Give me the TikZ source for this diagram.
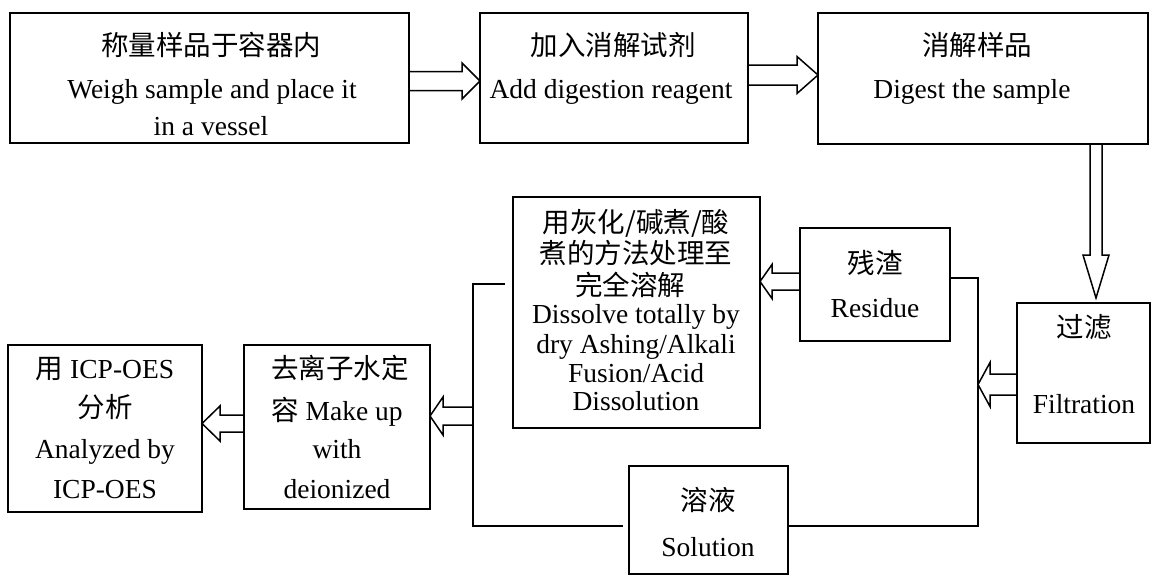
\documentclass[tikz,border=0pt]{standalone}
\usepackage{fontspec}
\setmainfont{Liberation Serif}
\newfontfamily\cjk{Noto Sans CJK SC}
\newcommand\tline[4]{\node[txt] (#1) at (#2,#3+10) {#4};}
\newcommand\boxn[5]{\node[box, minimum width=#4pt, minimum height=#5pt] (#1) at (#2,#3) {};}
\begin{document}
\begin{tikzpicture}[x=1pt,y=-1pt,
  box/.style={draw, line width=1.8pt, inner sep=0pt, outer sep=0pt},
  arr/.style={draw, line width=1.5pt, line join=miter},
  ln/.style={draw, line width=1.5pt},
  txt/.style={anchor=base, inner sep=0pt, font=\fontsize{27.5}{30}\selectfont}]
\useasboundingbox (0,0) rectangle (1159,576);
% boxes
\boxn{b1}{209.5}{78}{399}{130}
\boxn{b2}{614}{78}{268}{130}
\boxn{b3}{983}{78.5}{330}{131}
\boxn{fb}{1083.5}{373}{133}{140}
\boxn{rb}{875}{284.5}{150}{113}
\boxn{db}{636.5}{312.5}{247}{231}
\boxn{sb}{708.5}{520}{159}{108}
\boxn{ib}{337}{427}{186}{164}
\boxn{cb}{105}{428.5}{194}{167}
% texts
\tline{t1a}{211}{45}{{\cjk 称量样品于容器内}}
\tline{t1b}{212}{88}{Weigh sample and place it}
\tline{t1c}{211}{125}{in a vessel}
\tline{t2a}{613}{45}{{\cjk 加入消解试剂}}
\tline{t2b}{611}{88}{Add digestion reagent}
\tline{t3a}{977}{45}{{\cjk 消解样品}}
\tline{t3b}{972}{88}{Digest the sample}
\tline{tfa}{1084}{327}{{\cjk 过滤}}
\tline{tfb}{1084}{403}{Filtration}
\tline{tra}{875}{263}{{\cjk 残渣}}
\tline{trb}{875}{307}{Residue}
\tline{tda}{636}{222}{{\cjk 用灰化/碱煮/酸}}
\tline{tdb}{636}{253}{{\cjk 煮的方法处理至}}
\tline{tdc}{630}{285}{{\cjk 完全溶解}}
\tline{tdd}{636}{313}{Dissolve totally by}
\tline{tde}{636}{343}{dry Ashing/Alkali}
\tline{tdf}{636}{372}{Fusion/Acid}
\tline{tdg}{636}{400}{Dissolution}
\tline{tsa}{708}{500}{{\cjk 溶液}}
\tline{tsb}{708}{546}{Solution}
\tline{tia}{340}{368}{{\cjk 去离子水定}}
\tline{tib}{337}{410}{{\cjk 容} Make up}
\tline{tic}{337}{448}{with}
\tline{tid}{337}{488}{deionized}
\tline{tca}{105}{368}{{\cjk 用} ICP-OES}
\tline{tcb}{105}{407}{{\cjk 分析}}
\tline{tcc}{105}{448}{Analyzed by}
\tline{tcd}{105}{488}{ICP-OES}
% block arrows
\draw[arr] (b1.east |- 0,71.5) -- (462,71.5) -- (462,63) -- (b2.west |- 0,81) -- (462,99) -- (462,90.5) -- (b1.east |- 0,90.5);
\draw[arr] (b2.east |- 0,65) -- (797,65) -- (797,56.5) -- (b3.west |- 0,75) -- (797,93.5) -- (797,85) -- (b2.east |- 0,85);
\draw[arr] (b3.south -| 1090,0) -- (1090,255) -- (1083,255) -- (1096,298) -- (1109,255) -- (1102,255) -- (b3.south -| 1102,0);
\coordinate (vr) at (978,384.5);
\draw[arr] (fb.west |- 0,374) -- (990,374) -- (990,362.5) -- (vr) -- (990,406.5) -- (990,395) -- (fb.west |- 0,395);
\draw[arr] (rb.west |- 0,273) -- (772,273) -- (772,264.5) -- (db.east |- 0,281.5) -- (772,298.5) -- (772,290) -- (rb.west |- 0,290);
\coordinate (vl) at (473,416);
\draw[arr] (vl |- 0,407) -- (443,407) -- (443,397) -- (ib.east |- 0,416) -- (443,435) -- (443,425) -- (vl |- 0,425);
\draw[arr] (ib.west |- 0,415) -- (220,415) -- (220,406) -- (cb.east |- 0,423.5) -- (220,441) -- (220,432) -- (ib.west |- 0,432);
% lines
\draw[ln] (rb.east |- 0,278) -- (978,278) -- (978,526) -- (sb.east |- 0,526);
\draw[ln] (505,284) -- (473,284) -- (473,526) -- (623,526);
\end{tikzpicture}
\end{document}
